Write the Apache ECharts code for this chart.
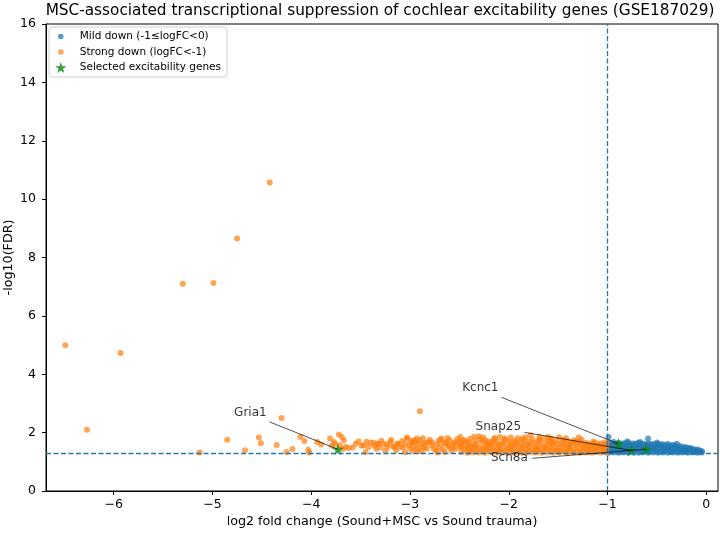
<!DOCTYPE html>
<html>
<head>
<meta charset="utf-8">
<script src="https://cdn.jsdelivr.net/npm/echarts@6/dist/echarts.min.js"></script>
<style>html,body{margin:0;padding:0;background:#fff}#c{width:720px;height:533px}</style>
</head>
<body>
<div id="c"></div>
<script>
// ---------- data ----------
const titleText = 'MSC-associated transcriptional suppression of cochlear excitability genes (GSE187029)';
const xName = 'log2 fold change (Sound+MSC vs Sound trauma)';
const yName = '-log10(FDR)';
const xLimits = [-6.685, 0.118];
const yLimits = [0, 16];
const yTickStep = 2;
const fdrThreshold = 1.30103;
const fcThreshold = -1;
const seriesNames = ['Mild down (-1\u2264logFC<0)', 'Strong down (logFC<-1)', 'Selected excitability genes'];

// strong down: outliers
const strongOutliers = [
  [-6.49,4.99],[-6.27,2.10],[-5.93,4.73],[-5.30,7.10],[-4.99,7.13],[-4.75,8.65],[-4.42,10.57],
  [-4.30,2.50],[-4.85,1.76],[-4.53,1.83],[-4.51,1.64],[-4.35,1.58],[-5.13,1.32],[-4.67,1.40],
  [-4.25,1.34],[-4.19,1.44],[-4.11,1.85],[-4.07,1.71],[-4.03,1.41],[-4.02,1.32],[-3.94,1.68],
  [-3.90,1.59],[-2.90,2.73]
];
// strong down: sparse part of the band
const strongMid = [
  [-3.81,1.80],[-3.77,1.68],[-3.76,1.62],[-3.72,1.94],[-3.69,1.85],[-3.67,1.74],[-3.71,1.57],
  [-3.65,1.51],[-3.62,1.47],[-3.79,1.55],[-3.68,1.44],[-3.55,1.62],[-3.52,1.70],[-3.47,1.57],
  [-3.42,1.51],[-3.40,1.65],[-3.37,1.65],[-3.34,1.45],[-3.32,1.62],[-3.30,1.49],[-3.27,1.62],
  [-3.23,1.49],[-3.20,1.68],[-3.16,1.51],[-3.13,1.62],[-3.10,1.51],[-3.05,1.62],[-3.03,1.83],
  [-3.01,1.57],[-3.00,1.45],[-2.98,1.65],[-2.96,1.54],[-2.94,1.67],[-2.93,1.45],[-2.91,1.60],
  [-2.90,1.74],[-2.88,1.51],[-2.86,1.62],[-2.83,1.45],[-2.81,1.67],[-2.78,1.57],[-2.76,1.45],
  [-2.71,1.72],[-2.70,1.51],[-2.68,1.80],[-2.66,1.62],[-2.63,1.67],[-2.61,1.51],[-2.60,1.74],
  [-2.56,1.57],[-2.53,1.67],[-2.49,1.51],[-3.33,1.62],[-3.23,1.60],[-3.17,1.53],[-3.12,1.62],
  [-3.08,1.71],[-3.03,1.80],[-2.96,1.74],[-2.93,1.80],[-2.85,1.51],[-2.78,1.67],[-2.69,1.76],
  [-2.64,1.64],[-2.61,1.57],[-2.56,1.67],[-2.51,1.62],[-3.45,1.34],[-3.25,1.36],[-3.05,1.33],
  [-2.88,1.35],[-2.72,1.32],[-2.58,1.38],[-3.58,1.49],[-3.49,1.55],[-2.74,1.40],[-2.65,1.34],
  [-2.54,1.45],[-2.97,1.38],[-3.14,1.40],[-2.99,1.72],[-2.87,1.81],[-2.80,1.76],[-2.73,1.60],
  [-2.67,1.42],[-2.62,1.82],[-2.57,1.48],[-2.52,1.78],[-2.84,1.66],[-2.92,1.36],[-3.07,1.49],
  [-3.19,1.75],[-3.29,1.72],[-3.36,1.55],[-3.44,1.69]
];
// strong down: dense part of the band
const strongDense = [
  [-2.48,1.34],[-2.48,1.52],[-2.48,1.66],[-2.45,1.41],[-2.45,1.60],[-2.45,1.75],
  [-2.42,1.31],[-2.42,1.48],[-2.42,1.69],[-2.39,1.37],[-2.39,1.55],[-2.39,1.79],
  [-2.36,1.33],[-2.36,1.46],[-2.36,1.63],[-2.33,1.39],[-2.33,1.58],[-2.33,1.72],
  [-2.30,1.32],[-2.30,1.50],[-2.30,1.88],[-2.27,1.36],[-2.27,1.45],[-2.27,1.67],
  [-2.24,1.31],[-2.24,1.54],[-2.24,1.74],[-2.21,1.40],[-2.21,1.62],[-2.21,1.70],
  [-2.18,1.34],[-2.18,1.49],[-2.18,1.65],[-2.15,1.38],[-2.15,1.57],[-2.15,1.78],
  [-2.12,1.31],[-2.12,1.44],[-2.12,1.68],[-2.09,1.36],[-2.09,1.53],[-2.09,1.85],
  [-2.06,1.33],[-2.06,1.61],[-2.06,1.66],[-2.03,1.39],[-2.03,1.47],[-2.03,1.76],
  [-2.00,1.32],[-2.00,1.55],[-2.00,1.70],[-1.97,1.35],[-1.97,1.43],[-1.97,1.64],
  [-1.94,1.31],[-1.94,1.51],[-1.94,1.72],[-1.91,1.38],[-1.91,1.59],[-1.91,1.81],
  [-1.88,1.33],[-1.88,1.46],[-1.88,1.67],[-1.85,1.36],[-1.85,1.56],[-1.85,1.74],
  [-1.82,1.31],[-1.82,1.42],[-1.82,1.63],[-1.79,1.37],[-1.79,1.52],[-1.79,1.70],
  [-1.76,1.34],[-1.76,1.60],[-1.76,1.77],[-1.73,1.32],[-1.73,1.48],[-1.73,1.66],
  [-1.70,1.39],[-1.70,1.55],[-1.70,1.72],[-1.67,1.31],[-1.67,1.44],[-1.67,1.64],
  [-1.64,1.35],[-1.64,1.53],[-1.64,1.79],[-1.61,1.33],[-1.61,1.58],[-1.61,1.69],
  [-1.58,1.38],[-1.58,1.47],[-1.58,1.73],[-1.55,1.31],[-1.55,1.54],[-1.55,1.65],
  [-1.52,1.36],[-1.52,1.42],[-1.52,1.71],[-1.49,1.32],[-1.49,1.50],[-1.49,1.84],
  [-1.46,1.37],[-1.46,1.57],[-1.46,1.67],[-1.43,1.34],[-1.43,1.45],[-1.43,1.62],
  [-1.40,1.31],[-1.40,1.52],[-1.40,1.70],[-1.37,1.38],[-1.37,1.59],[-1.37,1.66],
  [-1.34,1.33],[-1.34,1.46],[-1.34,1.74],[-1.31,1.35],[-1.31,1.55],[-1.31,1.63],
  [-1.28,1.31],[-1.28,1.43],[-1.28,1.68],[-1.25,1.37],[-1.25,1.51],[-1.25,1.60],
  [-1.22,1.32],[-1.22,1.47],[-1.22,1.65],[-1.19,1.36],[-1.19,1.56],[-1.19,1.62],
  [-1.16,1.31],[-1.16,1.44],[-1.16,1.58],[-1.13,1.34],[-1.13,1.50],[-1.13,1.66],
  [-1.10,1.38],[-1.10,1.46],[-1.10,1.60],[-1.07,1.32],[-1.07,1.53],[-1.07,1.64],
  [-1.04,1.35],[-1.04,1.42],[-1.04,1.57],[-1.01,1.31],[-1.01,1.48],[-1.01,1.62],
  [-2.35,1.86],[-1.98,1.83],[-1.60,1.85],[-1.78,1.91],[-1.29,1.83],[-2.49,1.85],
  [-2.09,1.45],[-1.95,1.58],[-1.71,1.41],[-1.56,1.61],[-1.39,1.44],[-1.20,1.40],
  [-2.40,1.42],[-2.20,1.56],[-1.87,1.52],[-1.50,1.39],[-1.15,1.52],[-1.05,1.50],
  [-2.465,1.72],[-2.41,1.62],[-2.345,1.53],[-2.285,1.76],[-2.225,1.46],[-2.165,1.70],
  [-2.105,1.59],[-2.045,1.81],[-1.985,1.50],[-1.925,1.66],[-1.865,1.80],[-1.805,1.58],
  [-1.745,1.44],[-1.685,1.77],[-1.625,1.48],[-1.565,1.79],[-1.505,1.62],[-1.445,1.76],
  [-1.385,1.54],[-1.325,1.69],[-1.265,1.76],[-1.205,1.52],[-1.145,1.70],[-1.085,1.55],
  [-1.025,1.67],[-2.14,1.82],[-1.83,1.84],[-1.42,1.81],[-2.26,1.83],[-1.69,1.85]
];
// mild down
const mildBand = [
  [-0.99,1.31],[-0.99,1.42],[-0.99,1.55],[-0.99,1.66],[-0.965,1.35],[-0.965,1.48],[-0.965,1.60],
  [-0.94,1.32],[-0.94,1.44],[-0.94,1.57],[-0.94,1.68],[-0.915,1.37],[-0.915,1.50],[-0.915,1.62],
  [-0.89,1.31],[-0.89,1.43],[-0.89,1.55],[-0.89,1.65],[-0.865,1.34],[-0.865,1.47],[-0.865,1.60],
  [-0.84,1.32],[-0.84,1.41],[-0.84,1.53],[-0.84,1.64],[-0.815,1.36],[-0.815,1.49],[-0.815,1.61],
  [-0.79,1.31],[-0.79,1.44],[-0.79,1.56],[-0.79,1.66],[-0.765,1.35],[-0.765,1.46],[-0.765,1.59],
  [-0.74,1.32],[-0.74,1.42],[-0.74,1.54],[-0.74,1.63],[-0.715,1.37],[-0.715,1.50],[-0.715,1.61],
  [-0.69,1.31],[-0.69,1.45],[-0.69,1.57],[-0.69,1.65],[-0.665,1.34],[-0.665,1.48],[-0.665,1.60],
  [-0.64,1.32],[-0.64,1.41],[-0.64,1.53],[-0.64,1.62],[-0.615,1.36],[-0.615,1.47],[-0.615,1.59],
  [-0.59,1.31],[-0.59,1.43],[-0.59,1.55],[-0.59,1.64],[-0.565,1.35],[-0.565,1.49],[-0.565,1.60],
  [-0.54,1.32],[-0.54,1.42],[-0.54,1.52],[-0.54,1.61],[-0.515,1.37],[-0.515,1.46],[-0.515,1.58],
  [-0.49,1.31],[-0.49,1.44],[-0.49,1.54],[-0.49,1.62],[-0.465,1.34],[-0.465,1.48],[-0.465,1.59],
  [-0.44,1.32],[-0.44,1.41],[-0.44,1.51],[-0.44,1.60],[-0.415,1.36],[-0.415,1.45],[-0.415,1.57],
  [-0.39,1.31],[-0.39,1.43],[-0.39,1.53],[-0.39,1.61],[-0.365,1.34],[-0.365,1.47],[-0.365,1.56],
  [-0.34,1.32],[-0.34,1.40],[-0.34,1.50],[-0.34,1.58],[-0.315,1.35],[-0.315,1.44],[-0.315,1.55],
  [-0.29,1.31],[-0.29,1.42],[-0.29,1.52],[-0.265,1.34],[-0.265,1.46],[-0.265,1.54],
  [-0.24,1.32],[-0.24,1.39],[-0.24,1.49],[-0.215,1.35],[-0.215,1.43],[-0.215,1.51],
  [-0.19,1.31],[-0.19,1.40],[-0.19,1.48],[-0.165,1.34],[-0.165,1.42],[-0.165,1.47],
  [-0.14,1.32],[-0.14,1.38],[-0.14,1.45],[-0.115,1.33],[-0.115,1.41],
  [-0.09,1.31],[-0.09,1.37],[-0.09,1.42],[-0.065,1.33],[-0.065,1.39],[-0.045,1.32],[-0.045,1.36],
  [-0.99,1.85],[-0.80,1.70],[-0.59,1.80],[-0.67,1.68],[-0.30,1.62],[-0.50,1.66]
];
// selected genes
const geneNames = ['Gria1', 'Kcnc1', 'Snap25', 'Scn8a'];
const geneFC = [-3.73, -0.89, -0.76, -0.61];
const geneFDR = [1.43, 1.62, 1.39, 1.43];
// annotation text positions and connector start points (data units)
const labelFC = [-4.616, -2.288, -2.106, -1.994];
const labelFDR = [2.67, 3.52, 2.18, 1.12];
const connFC = [-4.424, -2.075, -1.842, -1.760];
const connFDR = [2.37, 3.21, 2.01, 1.12];

// ---------- chart ----------
const BLUE = '#1f77b4', ORANGE = '#ff7f0e', GREEN = '#0a8a0a';
const FONT = 'DejaVu Sans';
const STAR = 'path://M50,0 L61.2,34.5 L97.6,34.5 L68.2,55.9 L79.4,90.5 L50,69.1 L20.6,90.5 L31.8,55.9 L2.4,34.5 L38.8,34.5 Z';
const DOT = 'path://M0,0 M12,12 M3,6 A3,3 0 1 0 9,6 A3,3 0 1 0 3,6 Z';

const chart = echarts.init(document.getElementById('c'), null, {renderer: 'canvas'});
const minus = v => String(v).replace('-', '\u2212');

chart.setOption({
  animation: false,
  backgroundColor: '#fff',
  textStyle: {fontFamily: FONT},
  title: {
    text: titleText, left: 375, top: -1, textAlign: 'center',
    textStyle: {fontFamily: FONT, fontSize: 15.3, fontWeight: 'normal', color: '#000'}
  },
  grid: {left: 46, right: 2, top: 24, bottom: 42, show: true, borderColor: '#000', borderWidth: 1,
    backgroundColor: 'transparent', containLabel: false, outerBoundsMode: 'none'},
  legend: {
    orient: 'vertical', left: 49, top: 27,
    padding: [4, 6, 4, 6], itemGap: 4.5, itemWidth: 20, itemHeight: 11,
    backgroundColor: 'rgba(255,255,255,0.8)', borderColor: '#d0d0d0', borderWidth: 1, borderRadius: 3,
    textStyle: {fontFamily: FONT, fontSize: 10.5, color: '#000', padding: [0, 0, 0, 4]},
    data: [
      {name: seriesNames[0], icon: DOT, itemStyle: {color: BLUE, opacity: 0.75}},
      {name: seriesNames[1], icon: DOT, itemStyle: {color: ORANGE, opacity: 0.7}},
      {name: seriesNames[2], icon: STAR, itemStyle: {color: GREEN}}
    ]
  },
  xAxis: {
    type: 'value', min: xLimits[0], max: xLimits[1], splitNumber: 7,
    name: xName, nameLocation: 'middle', nameGap: 24, nameMoveOverlap: false,
    nameTextStyle: {fontFamily: FONT, fontSize: 12.7, color: '#000'},
    axisLine: {show: true, onZero: false, lineStyle: {color: '#000', width: 1}},
    axisTick: {show: true, length: 4, lineStyle: {color: '#000'}},
    splitLine: {show: false},
    axisLabel: {fontFamily: FONT, fontSize: 12.5, color: '#000', margin: 7,
      formatter: v => Number.isInteger(v) ? minus(v) : '', showMinLabel: false, showMaxLabel: false}
  },
  yAxis: {
    type: 'value', min: yLimits[0], max: yLimits[1], interval: yTickStep,
    name: yName, nameLocation: 'middle', nameGap: 31, nameRotate: 90, nameMoveOverlap: false,
    nameTextStyle: {fontFamily: FONT, fontSize: 12.7, color: '#000'},
    axisLine: {show: true, onZero: false, lineStyle: {color: '#000', width: 1}},
    axisTick: {show: true, length: 4, lineStyle: {color: '#000'}},
    splitLine: {show: false},
    axisLabel: {fontFamily: FONT, fontSize: 12.5, color: '#000', margin: 10}
  },
  series: [
    {
      name: seriesNames[0], type: 'scatter', symbol: 'circle', symbolSize: 6, z: 2,
      itemStyle: {color: BLUE, opacity: 0.7}, data: mildBand
    },
    {
      name: seriesNames[1], type: 'scatter', symbol: 'circle', symbolSize: 6, z: 2,
      itemStyle: {color: ORANGE, opacity: 0.7},
      data: strongOutliers.concat(strongMid, strongDense)
    },
    {
      name: 'refs', type: 'scatter', data: [], z: 3, silent: true,
      markLine: {
        silent: true, symbol: ['none', 'none'], label: {show: false},
        lineStyle: {color: BLUE, width: 1.3, type: [5, 2.5]},
        data: [{xAxis: fcThreshold}, {yAxis: fdrThreshold}]
      }
    },
    {
      name: seriesNames[2], type: 'scatter', symbol: STAR, symbolSize: 12, z: 4,
      itemStyle: {color: GREEN},
      data: geneFC.map((x, i) => [x, geneFDR[i]])
    },
    {
      name: 'connectors', type: 'lines', coordinateSystem: 'cartesian2d', z: 5, silent: true,
      lineStyle: {color: '#000', width: 0.8, opacity: 0.85},
      data: geneFC.map((x, i) => ({coords: [[connFC[i], connFDR[i]], [x, geneFDR[i]]]}))
    },
    {
      name: 'labels', type: 'scatter', symbolSize: 1, z: 6, silent: true,
      itemStyle: {color: 'rgba(0,0,0,0)'},
      label: {show: true, position: 'inside', formatter: '{b}', fontFamily: FONT, fontSize: 12, color: '#000'},
      data: geneNames.map((n, i) => ({name: n, value: [labelFC[i], labelFDR[i]]}))
    }
  ]
});
</script>
</body>
</html>
